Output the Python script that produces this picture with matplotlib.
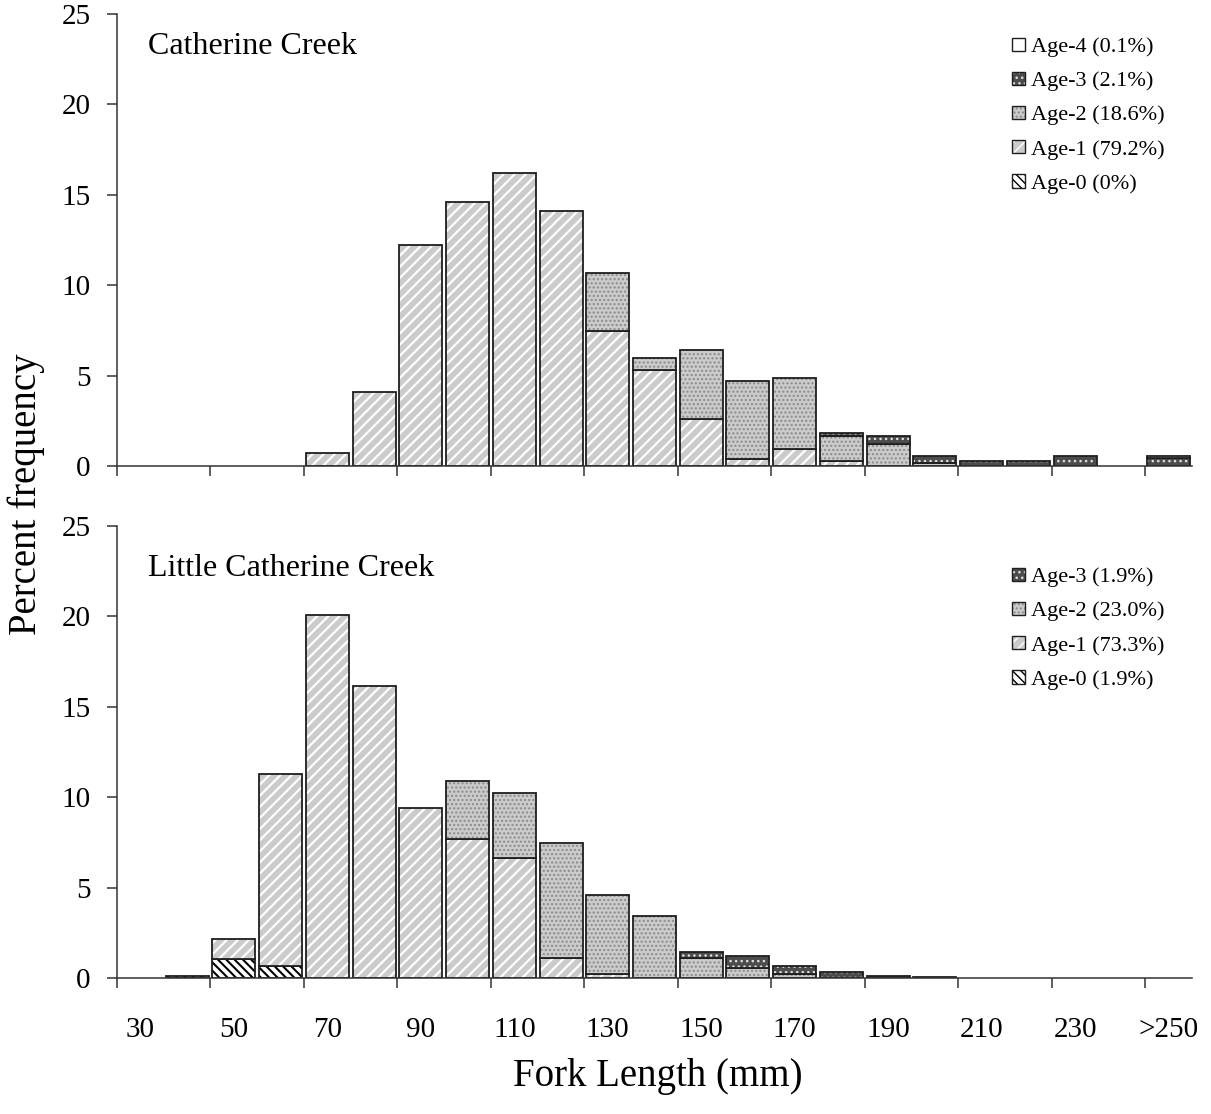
import numpy as np
import matplotlib
matplotlib.use("Agg")
import matplotlib.pyplot as plt
from matplotlib.patches import Rectangle
from matplotlib.legend_handler import HandlerTuple

plt.rcParams['font.family'] = ['Liberation Serif', 'DejaVu Serif']

# Fork length bins (10 mm), last bin is >250
bins = ['30', '40', '50', '60', '70', '80', '90', '100', '110', '120', '130', '140',
        '150', '160', '170', '180', '190', '200', '210', '220', '230', '240', '>250']

# Catherine Creek, percent frequency by age
cc_age0 = [0] * 23
cc_age1 = [0, 0, 0, 0, 0.7, 4.1, 12.2, 14.6, 16.2, 14.1, 7.45, 5.3, 2.6, 0.4, 0.94, 0.25,
           0, 0, 0, 0, 0, 0, 0]
cc_age2 = [0, 0, 0, 0, 0, 0, 0, 0, 0, 0, 3.25, 0.7, 3.8, 4.3, 3.94, 1.4,
           1.2, 0.15, 0, 0, 0, 0, 0]
cc_age3 = [0, 0, 0, 0, 0, 0, 0, 0, 0, 0, 0, 0, 0, 0, 0, 0.2,
           0.46, 0.42, 0.26, 0.26, 0.57, 0, 0.42]
cc_age4 = [0] * 22 + [0.15]
cc_legend = ['Age-0 (0%)', 'Age-1 (79.2%)', 'Age-2 (18.6%)', 'Age-3 (2.1%)', 'Age-4 (0.1%)']

# Little Catherine Creek
lcc_age0 = [0, 0.1, 1.05, 0.65] + [0] * 19
lcc_age1 = [0, 0, 1.1, 10.65, 20.1, 16.15, 9.4, 7.7, 6.64, 1.12, 0.24] + [0] * 12
lcc_age2 = [0, 0, 0, 0, 0, 0, 0, 3.2, 3.6, 6.36, 4.33, 3.41, 1.09, 0.55, 0.24] + [0] * 8
lcc_age3 = [0] * 12 + [0.35, 0.65, 0.41, 0.35, 0.11, 0.06] + [0] * 5
lcc_legend = ['Age-0 (1.9%)', 'Age-1 (73.3%)', 'Age-2 (23.0%)', 'Age-3 (1.9%)']

# face colour, hatch, hatch colour, hatch width for each age class
styles = [
    ('white', '\\\\\\\\', 'black', 1.5),
    ('#cbcbcb', '///', 'white', 1.6),
    ('#cbcbcb', '....', '#8a8a8a', 1.0),
    ('#4c4c4c', '...', '#e0e0e0', 1.0),
    ('white', '', 'white', 1.0),
]
edge = '#1e1e1e'
x = np.arange(len(bins))
width = 0.92


def set_hlw(p, lw):
    if hasattr(p, 'set_hatch_linewidth'):
        p.set_hatch_linewidth(lw)


def draw_panel(ax, series, labels, title, title_y, leg_y):
    bottom = np.zeros(len(bins))
    for i, vals in enumerate(series):
        vals = np.array(vals, dtype=float)
        face, hatch, hcol, hlw = styles[i]
        m = vals > 0
        if m.any():
            bars = ax.bar(x[m], vals[m], width=width, bottom=bottom[m], color=face,
                          edgecolor=hcol, hatch=hatch, linewidth=0)
            for p in bars:
                set_hlw(p, hlw)
            ax.bar(x[m], vals[m], width=width, bottom=bottom[m], facecolor='none',
                   edgecolor=edge, linewidth=1.3)
        bottom += vals

    handles = []
    for i in range(len(series)):
        face, hatch, hcol, hlw = styles[i]
        h1 = Rectangle((0, 0), 1, 1, facecolor=face, edgecolor=hcol, hatch=hatch, linewidth=0)
        set_hlw(h1, hlw)
        h2 = Rectangle((0, 0), 1, 1, facecolor='none', edgecolor=edge, linewidth=1.0)
        handles.append((h1, h2))
    ax.legend(handles[::-1], labels[::-1], handler_map={tuple: HandlerTuple(ndivide=1)},
              loc='upper left', bbox_to_anchor=(0.8247, leg_y), frameon=False, fontsize=16,
              handlelength=0.55, handleheight=0.55, handletextpad=0.3, labelspacing=0.65,
              borderaxespad=0)

    ax.text(0.029, title_y, title, transform=ax.transAxes, fontsize=23, va='center')
    ax.set_xlim(-0.5, 22.5)
    ax.set_ylim(0, 25)
    ax.set_yticks([0, 5, 10, 15, 20, 25])
    ax.spines['top'].set_visible(False)
    ax.spines['right'].set_visible(False)
    for s in ('left', 'bottom'):
        ax.spines[s].set_linewidth(1.1)
        ax.spines[s].set_color('#333333')
    ax.tick_params(axis='y', direction='out', length=7, width=1.1, labelsize=21, pad=12,
                   color='#333333')
    ax.set_xticks(np.arange(-0.5, 22, 2))
    ax.set_xticklabels([])
    ax.set_xticks(x[::2], minor=True)
    ax.tick_params(axis='x', which='major', direction='out', length=7, width=1.1,
                   color='#333333')
    ax.tick_params(axis='x', which='minor', length=0, labelsize=21, pad=28)


fig = plt.figure(figsize=(12.11, 11.14), dpi=100)
ax1 = fig.add_axes([0.0966, 0.5817, 0.8877, 0.4057])
ax2 = fig.add_axes([0.0966, 0.1221, 0.8877, 0.4057])

draw_panel(ax1, [cc_age0, cc_age1, cc_age2, cc_age3, cc_age4], cc_legend,
           'Catherine Creek', 0.928, 0.968)
draw_panel(ax2, [lcc_age0, lcc_age1, lcc_age2, lcc_age3], lcc_legend,
           'Little Catherine Creek', 0.906, 0.928)
ax1.set_xticklabels([], minor=True)
ax2.set_xticklabels([bins[i] for i in range(0, 23, 2)], minor=True)

fig.text(0.022, 0.556, 'Percent frequency', rotation=90, fontsize=28, va='center', ha='center')
fig.text(0.543, 0.034, 'Fork Length (mm)', fontsize=28, ha='center', va='center')

fig.savefig('out.png', dpi=100)
